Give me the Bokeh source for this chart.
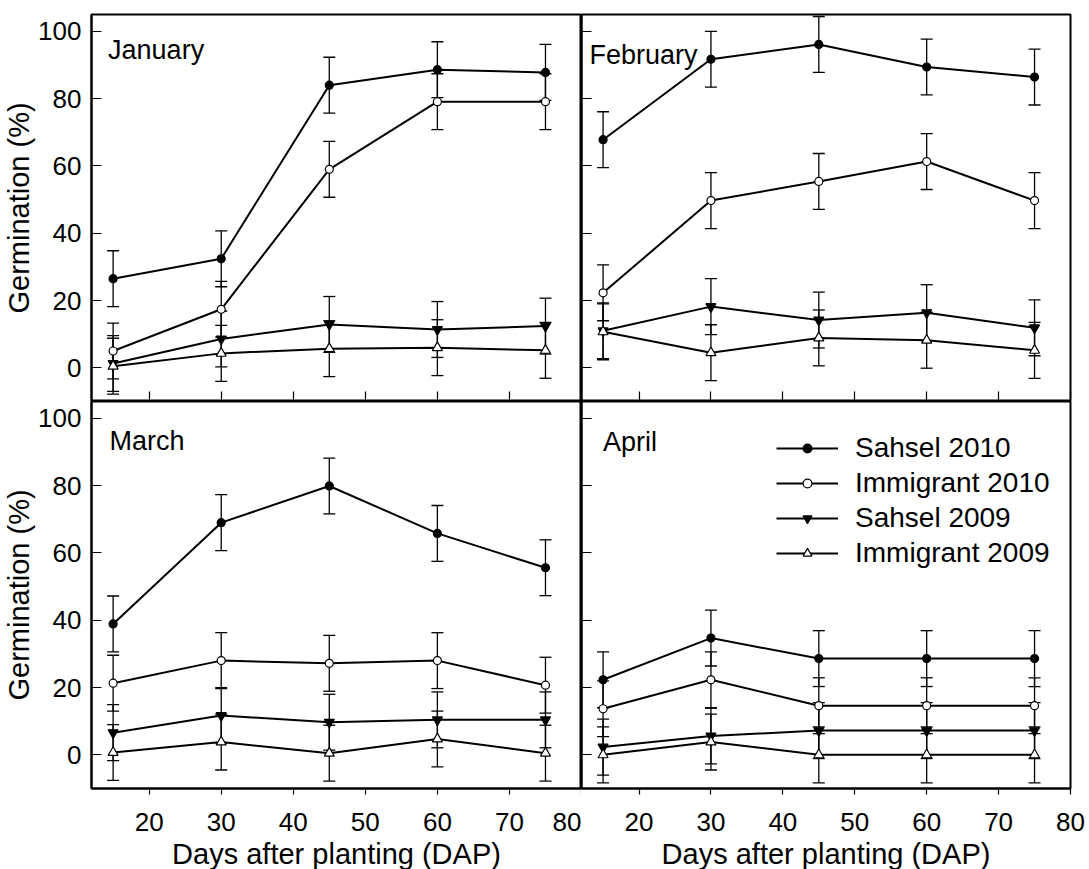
from bokeh.plotting import figure
from bokeh.models import (ColumnDataSource, Whisker, TeeHead, FixedTicker, Range1d,
                          Legend, LegendItem, Label)
from bokeh.layouts import column, row
from bokeh.embed import file_html
from bokeh.resources import INLINE

# ---------------- data ----------------
dap = [15, 30, 45, 60, 75]
months = ["January", "February", "March", "April"]
series_names = ["Sahsel 2010", "Immigrant 2010", "Sahsel 2009", "Immigrant 2009"]

jan_sahsel_2010 = [26.5, 32.4, 84.0, 88.6, 87.8]
jan_immigrant_2010 = [5.0, 17.4, 59.0, 79.1, 79.1]
jan_sahsel_2009 = [1.3, 8.6, 12.9, 11.4, 12.4]
jan_immigrant_2009 = [0.5, 4.3, 5.7, 6.0, 5.2]

feb_sahsel_2010 = [67.8, 91.7, 96.1, 89.4, 86.4]
feb_immigrant_2010 = [22.3, 49.7, 55.4, 61.3, 49.7]
feb_sahsel_2009 = [11.0, 18.2, 14.2, 16.4, 11.9]
feb_immigrant_2009 = [10.7, 4.5, 8.9, 8.2, 5.2]

mar_sahsel_2010 = [38.9, 69.0, 79.9, 65.8, 55.6]
mar_immigrant_2010 = [21.3, 28.0, 27.2, 28.0, 20.7]
mar_sahsel_2009 = [6.6, 11.7, 9.7, 10.4, 10.4]
mar_immigrant_2009 = [0.7, 3.8, 0.5, 4.7, 0.5]

apr_sahsel_2010 = [22.3, 34.7, 28.6, 28.6, 28.6]
apr_immigrant_2010 = [13.7, 22.3, 14.6, 14.6, 14.6]
apr_sahsel_2009 = [2.3, 5.6, 7.2, 7.2, 7.2]
apr_immigrant_2009 = [0.0, 3.8, 0.0, 0.0, 0.0]

error_half = 8.3  # half-width of the error bars (%)

x_ticks = [20, 30, 40, 50, 60, 70, 80]
y_ticks = [0, 20, 40, 60, 80, 100]

panel_data = [
    [jan_sahsel_2010, jan_immigrant_2010, jan_sahsel_2009, jan_immigrant_2009],
    [feb_sahsel_2010, feb_immigrant_2010, feb_sahsel_2009, feb_immigrant_2009],
    [mar_sahsel_2010, mar_immigrant_2010, mar_sahsel_2009, mar_immigrant_2009],
    [apr_sahsel_2010, apr_immigrant_2010, apr_sahsel_2009, apr_immigrant_2009],
]

# ---------------- styles ----------------
FONT = "Liberation Sans"
markers = ["circle", "circle", "inverted_triangle", "triangle"]
fills = ["black", "white", "black", "white"]
msizes = [8, 8, 10, 10]
label_pos = [(14.3, 94.5), (13.1, 93.1), (14.5, 93.3), (15.0, 93.1)]


def make_panel(idx):
    left = idx in (0, 2)
    top = idx in (0, 1)
    p = figure(
        frame_width=490 if left else 489, frame_height=387,
        x_range=Range1d(12, 80), y_range=Range1d(-10, 105),
        output_backend="svg", toolbar_location=None,
        min_border_left=84 if left else 0,
        min_border_right=0 if left else 15,
        min_border_top=14 if top else 0,
        min_border_bottom=0,
    )
    p.xgrid.visible = False
    p.ygrid.visible = False
    p.outline_line_color = "black"
    p.outline_line_width = 2
    p.outline_line_alpha = 1
    p.background_fill_color = "white"
    p.border_fill_color = "white"

    for ax in (p.xaxis[0], p.yaxis[0]):
        ax.axis_line_color = "black"
        ax.axis_line_width = 2
        ax.major_tick_line_color = "black"
        ax.major_tick_line_width = 1.2
        ax.minor_tick_in = 0
        ax.minor_tick_out = 0
        ax.major_label_text_font = FONT
        ax.major_label_text_color = "black"
        ax.axis_label_text_font = FONT
        ax.axis_label_text_font_style = "normal"
        ax.axis_label_text_color = "black"

    xa = p.xaxis[0]
    xa.ticker = FixedTicker(ticks=x_ticks, minor_ticks=[])
    if top:
        xa.major_label_text_color = None
        xa.major_label_standoff = 0
        xa.major_tick_out = 0
        xa.major_tick_in = 10
    else:
        xa.major_label_text_font_size = "26px"
        xa.major_label_standoff = 18
        xa.major_tick_out = 6
        xa.major_tick_in = 0
        xa.axis_label = "Days after planting (DAP)"
        xa.axis_label_text_font_size = "29px"
        xa.axis_label_standoff = 4

    ya = p.yaxis[0]
    ya.ticker = FixedTicker(ticks=y_ticks, minor_ticks=[])
    ya.major_tick_out = 0
    ya.major_tick_in = 10
    if left:
        ya.major_label_text_font_size = "26px"
        ya.major_label_standoff = 10
        ya.axis_label = "Germination (%)"
        ya.axis_label_text_font_size = "29px"
        ya.axis_label_standoff = 0
    else:
        ya.major_label_text_color = None
        ya.major_label_standoff = 0

    sources = []
    for s, vals in enumerate(panel_data[idx]):
        src = ColumnDataSource(dict(
            x=dap, y=vals,
            upper=[v + error_half for v in vals],
            lower=[v - error_half for v in vals],
        ))
        w = Whisker(source=src, base="x", upper="upper", lower="lower",
                    dimension="height", line_color="black", line_width=1.3,
                    upper_head=TeeHead(size=12, line_color="black", line_width=1.3),
                    lower_head=TeeHead(size=12, line_color="black", line_width=1.3),
                    level="underlay")
        p.add_layout(w)
        sources.append(src)

    items = []
    for s, src in enumerate(sources):
        lr = p.line("x", "y", source=src, line_color="black", line_width=2)
        sr = p.scatter("x", "y", source=src, marker=markers[s], size=msizes[s],
                       fill_color=fills[s], line_color="black", line_width=1.2)
        items.append(LegendItem(label=series_names[s], renderers=[lr, sr]))

    lx, ly = label_pos[idx]
    p.add_layout(Label(x=lx, y=ly, text=months[idx], text_font=FONT,
                       text_font_size="27px", text_color="black",
                       text_baseline="alphabetic"))

    if idx == 3:
        leg = Legend(items=items, location=(195, 219),
                     label_text_font=FONT, label_text_font_size="28px",
                     label_text_color="black",
                     glyph_width=62, glyph_height=22, label_height=22,
                     label_standoff=17, spacing=3, padding=0, margin=0,
                     border_line_alpha=0, background_fill_alpha=0)
        p.add_layout(leg)
    return p


panels = [make_panel(i) for i in range(4)]
layout = column(row(panels[0], panels[1]), row(panels[2], panels[3]))

open("out.html", "w").write(file_html(layout, INLINE))
